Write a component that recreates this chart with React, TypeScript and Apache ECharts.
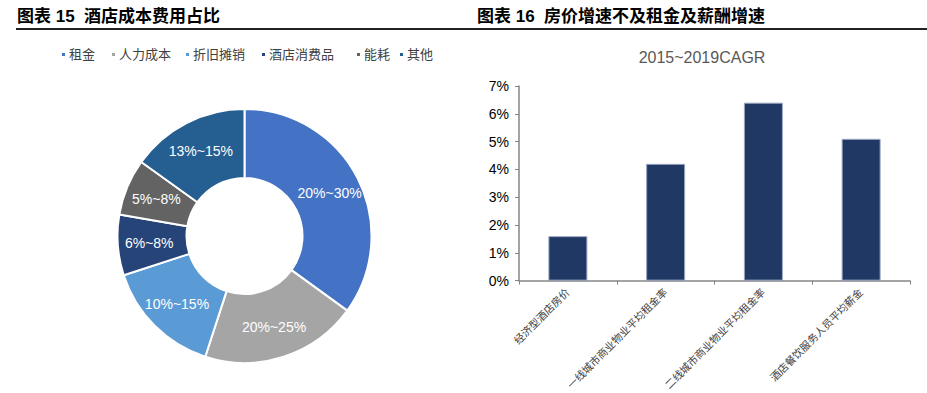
import React, { useEffect, useRef } from "react";
import * as echarts from "echarts";

const costNames = ["租金", "人力成本", "折旧摊销", "酒店消费品", "能耗", "其他"];
const costShares = [35, 20, 15, 7.7, 7.2, 15.1];
const costRanges = ["20%~30%", "20%~25%", "10%~15%", "6%~8%", "5%~8%", "13%~15%"];
const costColors = ["#4472C4", "#A5A5A5", "#5B9BD5", "#264478", "#636363", "#255E91"];
const legendLefts = [60, 110, 184, 260, 355, 398];

const growthCats = [
  "经济型酒店房价",
  "一线城市商业物业平均租金率",
  "二线城市商业物业平均租金率",
  "酒店餐饮服务人员平均薪金",
];
const growthVals = [1.6, 4.2, 6.4, 5.1];

const CJK = "'Liberation Sans', 'Noto Sans CJK SC', sans-serif";

export default function App() {
  const ref = useRef<HTMLDivElement>(null);
  useEffect(() => {
    if (!ref.current) return;
    const chart = echarts.init(ref.current, null, { renderer: "svg" });
    const legends = costNames.map((n, i) => ({
      data: [n],
      left: legendLefts[i],
      top: 48,
      icon: "rect",
      itemWidth: 5,
      itemHeight: 5,
      itemGap: 0,
      padding: 0,
      selectedMode: false,
      textStyle: { fontSize: 13, color: "#404040", fontFamily: CJK, padding: [0, 0, 0, -2] },
    }));
    chart.setOption({
      animation: false,
      legend: legends,
      graphic: [
        {
          type: "text",
          x: 17,
          y: 16,
          style: {
            text: "图表 15  酒店成本费用占比",
            fontSize: 17,
            fontWeight: "bold",
            fontFamily: CJK,
            fill: "#000",
            textVerticalAlign: "middle",
          },
        },
        {
          type: "text",
          x: 477,
          y: 16,
          style: {
            text: "图表 16  房价增速不及租金及薪酬增速",
            fontSize: 17,
            fontWeight: "bold",
            fontFamily: CJK,
            fill: "#000",
            textVerticalAlign: "middle",
          },
        },
        {
          type: "line",
          shape: { x1: 16, y1: 29, x2: 927, y2: 29 },
          style: { stroke: "#222", lineWidth: 2 },
        },
        {
          type: "text",
          x: 702,
          y: 57,
          style: {
            text: "2015~2019CAGR",
            fontSize: 16,
            fontFamily: "'Liberation Sans', sans-serif",
            fill: "#595959",
            textAlign: "center",
            textVerticalAlign: "middle",
          },
        },
      ],
      grid: { left: 519, right: 17, top: 86, bottom: 111.3 },
      xAxis: {
        type: "category",
        data: growthCats,
        axisLine: { lineStyle: { color: "#868686", width: 1.5 } },
        axisTick: { show: true, length: 4, lineStyle: { color: "#868686" } },
        axisLabel: {
          rotate: 45,
          interval: 0,
          margin: 10,
          fontSize: 10.5,
          color: "#404040",
          fontFamily: CJK,
        },
      },
      yAxis: {
        type: "value",
        min: 0,
        max: 7,
        interval: 1,
        splitLine: { show: false },
        axisLine: { show: true, lineStyle: { color: "#868686", width: 1.5 } },
        axisTick: { show: true, length: 4, lineStyle: { color: "#868686" } },
        axisLabel: {
          formatter: "{value}%",
          fontSize: 14,
          margin: 10,
          color: "#000",
          fontFamily: "'Liberation Sans', sans-serif",
        },
      },
      series: [
        {
          type: "pie",
          center: [244.5, 236],
          radius: [58, 127],
          startAngle: 90,
          clockwise: true,
          itemStyle: { borderColor: "#fff", borderWidth: 2 },
          label: {
            position: "inside",
            color: "#fff",
            fontSize: 14,
            fontFamily: "'Liberation Sans', sans-serif",
            formatter: (p: any) => costRanges[p.dataIndex],
          },
          labelLine: { show: false },
          emphasis: { disabled: true },
          data: costNames.map((n, i) => ({
            name: n,
            value: costShares[i],
            itemStyle: { color: costColors[i] },
          })),
        },
        {
          type: "bar",
          data: growthVals,
          barWidth: 39,
          itemStyle: { color: "#203864", borderColor: "#9aa6c0", borderWidth: 1 },
          emphasis: { disabled: true },
        },
      ],
    });
    return () => chart.dispose();
  }, []);
  return (
    <div
      ref={ref}
      style={{ position: "absolute", left: 0, top: 0, width: 927, height: 393 }}
    />
  );
}
